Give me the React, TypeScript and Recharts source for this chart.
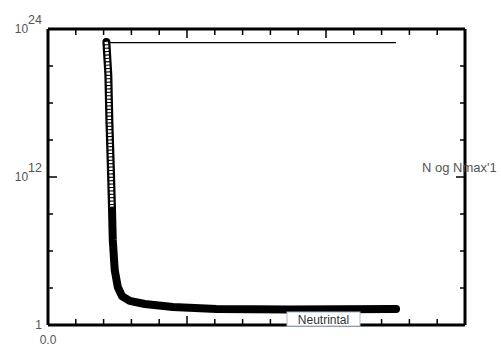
import React from 'react'
import { ComposedChart, Line, XAxis, YAxis } from 'recharts'

// decay curve (x, log10 N)
const decayX = [2.1, 2.17, 2.21, 2.26, 2.3, 2.33, 2.4, 2.51, 2.66, 2.94, 3.48, 4.49, 6.06, 8.68, 12.52]
const decayExp = [22.95, 20.3, 16.4, 12.8, 9.6, 6.9, 4.46, 3.08, 2.35, 1.95, 1.7, 1.46, 1.3, 1.26, 1.3]

// thin Nmax line across the top
const nmaxX = [2.15, 12.52]
const nmaxExp = [22.9, 22.9]

// axis ticks
const xTicks = [0, 1, 2, 3, 4, 5, 6, 7, 8, 9, 10, 11, 12, 13, 14, 15]
const xMajor = [0, 5, 10, 15]
const xTickLabels: Record<number, string> = { 0: '0.0' }
const yTicks = [1, 1e3, 1e6, 1e9, 1e12, 1e15, 1e18, 1e21, 1e24]
const yMajor = [1, 1e12, 1e24]
const yTickLabels: Record<number, [string, string]> = { 1: ['1', ''], 1e12: ['10', '12'], 1e24: ['10', '24'] }

const decay = decayX.map((x, i) => ({ x, y: Math.pow(10, decayExp[i]) }))
// the upper part of the curve is drawn as a hollow "ladder" of markers
const ladder = decay.filter((d) => d.y >= 3e9)
const nmax = nmaxX.map((x, i) => ({ x, y: Math.pow(10, nmaxExp[i]) }))

const W = 501
const H = 347
const TEXT = '#555'
const FONT = '"Liberation Sans", Arial, sans-serif'

const isMajor = (list: number[], v: number) => list.some((m) => Math.abs(m - v) < 1e-9 * Math.max(1, m))

const BottomTick = ({ x, y, payload }: any) => {
  const len = isMajor(xMajor, payload.value) ? 9 : 6
  const label = xTickLabels[payload.value]
  return (
    <g>
      <line x1={x} x2={x} y1={y} y2={y - len} stroke="#000" strokeWidth={1.5} />
      {label && (
        <text x={x} y={y + 19} textAnchor="middle" fill={TEXT} fontSize={12} fontFamily={FONT}>
          {label}
        </text>
      )}
    </g>
  )
}

const TopTick = ({ x, y, payload }: any) => {
  const len = isMajor(xMajor, payload.value) ? 9 : 6
  return <line x1={x} x2={x} y1={y} y2={y + len} stroke="#000" strokeWidth={1.5} />
}

const LeftTick = ({ x, y, payload }: any) => {
  const len = isMajor(yMajor, payload.value) ? 9 : 5
  const key = yTicks.find((t) => Math.abs(t - payload.value) < 1e-6 * t)
  const label = key !== undefined ? yTickLabels[key] : undefined
  return (
    <g>
      <line x1={x} x2={x + len} y1={y} y2={y} stroke="#000" strokeWidth={1.5} />
      {label && (
        <text x={x - 6} y={y + 4} textAnchor="end" fill={TEXT} fontSize={12} fontFamily={FONT}>
          {label[1] ? (
            <>
              <tspan>{label[0]}</tspan>
              <tspan dy={-9} fontSize={12.5}>{label[1]}</tspan>
            </>
          ) : (
            label[0]
          )}
        </text>
      )}
    </g>
  )
}

const RightTick = ({ x, y, payload }: any) => {
  const len = isMajor(yMajor, payload.value) ? 9 : 5
  return <line x1={x} x2={x - len} y1={y} y2={y} stroke="#000" strokeWidth={1.5} />
}

const frameLine = { stroke: '#000', strokeWidth: 3 }

export default function App() {
  return (
    <div style={{ position: 'absolute', left: 0, top: 0, width: W, height: H, background: '#fff' }}>
      <ComposedChart width={W} height={H} margin={{ top: 0, right: 0, bottom: 0, left: 0 }}>
        <XAxis
          xAxisId="b"
          type="number"
          dataKey="x"
          orientation="bottom"
          domain={[0, 15]}
          ticks={xTicks}
          interval={0}
          height={22}
          tickSize={0}
          tickMargin={0}
          tickLine={false}
          axisLine={frameLine}
          tick={<BottomTick />}
          allowDataOverflow
        />
        <XAxis
          xAxisId="t"
          type="number"
          dataKey="x"
          orientation="top"
          domain={[0, 15]}
          ticks={xTicks}
          interval={0}
          height={29}
          tickSize={0}
          tickMargin={0}
          tickLine={false}
          axisLine={frameLine}
          tick={<TopTick />}
          allowDataOverflow
        />
        <YAxis
          yAxisId="l"
          type="number"
          scale="log"
          orientation="left"
          domain={[1, 1e24]}
          ticks={yTicks}
          interval={0}
          width={48}
          tickSize={0}
          tickMargin={0}
          tickLine={false}
          axisLine={frameLine}
          tick={<LeftTick />}
          allowDataOverflow
        />
        <YAxis
          yAxisId="r"
          type="number"
          scale="log"
          orientation="right"
          domain={[1, 1e24]}
          ticks={yTicks}
          interval={0}
          width={36}
          tickSize={0}
          tickMargin={0}
          tickLine={false}
          axisLine={frameLine}
          tick={<RightTick />}
          allowDataOverflow
        />
        <Line
          data={decay}
          xAxisId="b"
          yAxisId="l"
          dataKey="y"
          type="linear"
          stroke="#000"
          strokeWidth={8}
          strokeLinecap="round"
          strokeLinejoin="round"
          dot={false}
          activeDot={false}
          isAnimationActive={false}
        />
        <Line
          data={ladder}
          xAxisId="b"
          yAxisId="l"
          dataKey="y"
          type="linear"
          stroke="#fff"
          strokeWidth={3.5}
          strokeDasharray="2.3 1.1"
          dot={false}
          activeDot={false}
          isAnimationActive={false}
        />
        <Line
          data={nmax}
          xAxisId="b"
          yAxisId="l"
          dataKey="y"
          type="linear"
          stroke="#000"
          strokeWidth={1.2}
          dot={false}
          activeDot={false}
          isAnimationActive={false}
        />
      </ComposedChart>
      <svg
        width={W}
        height={H}
        style={{ position: 'absolute', left: 0, top: 0, pointerEvents: 'none' }}
      >
        <text x={422} y={172} fill={TEXT} fontSize={13} fontFamily={FONT}>
          N og Nmax'1
        </text>
        <rect x={287} y={312} width={73} height={14} fill="#fff" stroke="#a9b9d2" strokeWidth={1} />
        <text x={323.5} y={324} textAnchor="middle" fill="#333" fontSize={12} fontFamily={FONT}>
          Neutrintal
        </text>
      </svg>
    </div>
  )
}
